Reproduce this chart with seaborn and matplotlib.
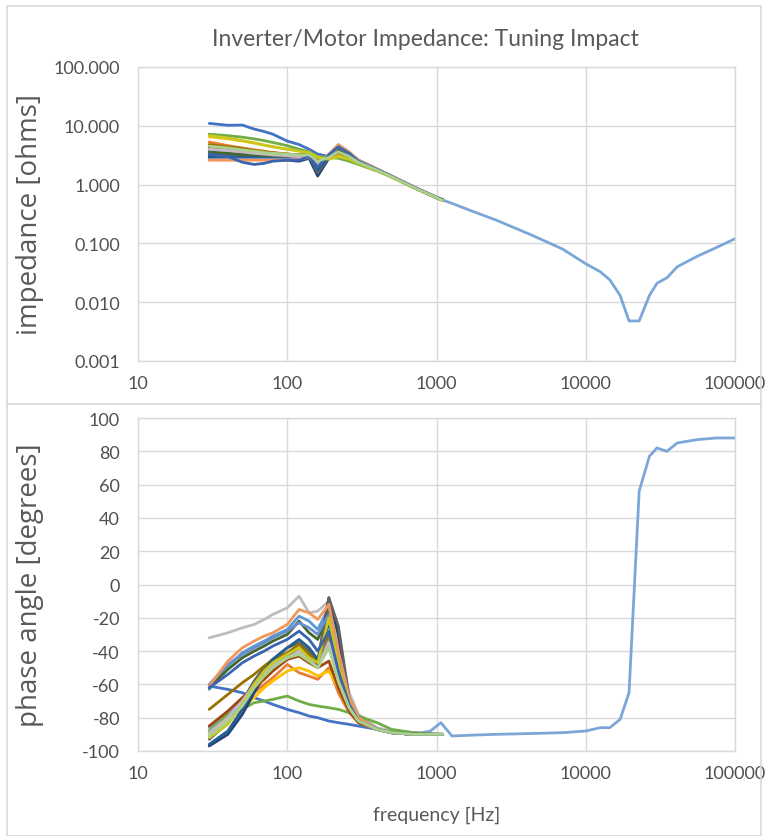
import matplotlib
matplotlib.use("Agg")
import matplotlib.pyplot as plt
import numpy as np
import pandas as pd
import seaborn as sns
from matplotlib.patches import Rectangle
from matplotlib.lines import Line2D
from matplotlib.ticker import FixedLocator, FuncFormatter, NullLocator

# frequency points [Hz] shared by the tuning runs
freq_runs = [30, 40, 50, 60, 70, 80, 100, 120, 140, 160, 190, 220, 260, 300, 400, 500, 700, 1000, 1100]

# full sweep of the final tuning (goes out to 100 kHz)
freq_sweep = [30, 40, 50, 60, 70, 80, 100, 120, 140, 160, 190, 220, 260, 300, 400, 500, 700,
              910, 1070, 1270, 1700, 2500, 4300, 7000, 10000, 12500, 14500, 17000, 19500,
              22800, 26700, 30000, 35000, 41000, 55600, 75000, 100000]
z_sweep = [3.8, 3.6, 3.5, 3.4, 3.3, 3.2, 3.1, 3.0, 3.0, 2.4, 2.9, 3.9, 3.1, 2.5, 1.8, 1.4, 0.92,
           0.66, 0.56, 0.48, 0.36, 0.25, 0.14, 0.08, 0.045, 0.033, 0.024, 0.013, 0.0048,
           0.0048, 0.013, 0.021, 0.026, 0.040, 0.060, 0.085, 0.12]
ph_sweep = [-86, -78, -70, -63, -56, -50, -44, -40, -42, -46, -32, -55, -75, -82, -87, -89, -90,
            -88, -83, -91, -90.5, -90, -89.5, -89, -88, -86, -86, -81, -65,
            56, 77, 82, 80, 85, 87, 88, 88]

# impedance magnitude [ohms] of each tuning run
z_gray = [3.0, 2.9, 2.8, 2.8, 2.7, 2.7, 2.7, 2.8, 3.0, 2.5, 2.9, 3.8, 3.0, 2.4, 1.75, 1.35, 0.90, 0.60, 0.55]
z_salmon = [2.6, 2.6, 2.6, 2.6, 2.6, 2.6, 2.6, 2.7, 2.9, 2.2, 3.3, 4.8, 3.6, 2.6, 1.85, 1.40, 0.92, 0.61, 0.55]
z_ltblue = [3.2, 3.1, 3.0, 3.0, 3.0, 3.0, 3.0, 3.0, 3.1, 2.4, 3.0, 4.2, 3.3, 2.5, 1.80, 1.38, 0.91, 0.60, 0.55]
z_dkgreen = [3.6, 3.4, 3.3, 3.2, 3.1, 3.1, 3.0, 3.0, 3.1, 2.3, 3.0, 4.0, 3.2, 2.5, 1.78, 1.37, 0.90, 0.60, 0.54]
z_blue = [3.3, 3.0, 2.4, 2.2, 2.3, 2.5, 2.6, 2.6, 3.0, 2.0, 3.2, 4.4, 3.4, 2.5, 1.80, 1.38, 0.91, 0.60, 0.55]
z_navy = [11.0, 10.2, 10.3, 8.8, 8.0, 7.2, 5.5, 4.8, 4.0, 3.3, 3.0, 3.2, 2.9, 2.4, 1.78, 1.38, 0.90, 0.61, 0.56]
z_green = [7.2, 6.8, 6.4, 6.0, 5.6, 5.2, 4.6, 4.0, 3.6, 3.0, 2.9, 2.8, 2.5, 2.2, 1.70, 1.35, 0.90, 0.60, 0.54]
z_olive = [4.8, 4.4, 4.1, 3.8, 3.6, 3.5, 3.3, 3.2, 3.3, 2.3, 3.1, 4.3, 3.3, 2.5, 1.80, 1.38, 0.91, 0.60, 0.55]
z_rust = [4.2, 3.9, 3.7, 3.6, 3.5, 3.4, 3.3, 3.2, 3.3, 2.6, 2.9, 3.5, 3.0, 2.4, 1.76, 1.36, 0.90, 0.60, 0.55]
z_orange = [5.3, 4.6, 4.2, 3.9, 3.7, 3.5, 3.3, 3.2, 3.3, 2.7, 2.8, 3.4, 2.9, 2.4, 1.75, 1.36, 0.90, 0.60, 0.55]
z_gold = [6.5, 6.0, 5.5, 5.1, 4.7, 4.4, 4.0, 3.8, 3.6, 2.9, 2.8, 3.2, 2.8, 2.3, 1.72, 1.35, 0.90, 0.60, 0.54]
z_dkblue = [2.9, 2.8, 2.7, 2.7, 2.7, 2.7, 2.6, 2.5, 2.8, 1.4, 2.8, 4.0, 3.3, 2.5, 1.80, 1.38, 0.91, 0.61, 0.55]
z_steel = [3.1, 3.0, 2.9, 2.9, 2.9, 2.9, 2.8, 2.8, 3.0, 1.8, 3.0, 4.5, 3.4, 2.5, 1.82, 1.39, 0.91, 0.60, 0.55]
z_lime = [6.8, 6.2, 5.6, 5.1, 4.7, 4.4, 4.0, 3.7, 3.5, 2.9, 2.7, 3.0, 2.7, 2.3, 1.72, 1.34, 0.89, 0.59, 0.54]
z_silver = [4.0, 3.8, 3.6, 3.4, 3.3, 3.2, 3.1, 3.0, 3.1, 2.2, 3.0, 4.4, 3.4, 2.5, 1.81, 1.38, 0.91, 0.60, 0.55]
z_charcoal = [3.5, 3.3, 3.2, 3.1, 3.0, 3.0, 2.9, 2.9, 3.0, 1.6, 2.9, 4.6, 3.5, 2.6, 1.83, 1.39, 0.92, 0.61, 0.55]
z_periwinkle = [2.7, 2.7, 2.7, 2.7, 2.7, 2.7, 2.7, 2.8, 3.0, 2.3, 3.1, 4.7, 3.5, 2.6, 1.84, 1.40, 0.92, 0.61, 0.55]
z_ltgreen = [4.5, 4.2, 3.9, 3.7, 3.5, 3.4, 3.3, 3.2, 3.2, 2.5, 2.9, 3.6, 3.0, 2.4, 1.76, 1.36, 0.90, 0.60, 0.54]

# phase angle [degrees] of each tuning run
ph_gray = [-32, -29, -26, -24, -21, -18, -14, -7, -17, -16, -10, -35, -65, -78, -86, -88, -89, -90, -90]
ph_salmon = [-61, -46, -38, -34, -31, -29, -24, -15, -17, -21, -12, -40, -68, -80, -87, -89, -90, -90, -90]
ph_ltblue = [-63, -49, -41, -37, -34, -31, -27, -19, -22, -27, -14, -45, -70, -81, -87, -89, -90, -90, -90]
ph_dkgreen = [-62, -51, -44, -40, -37, -34, -30, -22, -29, -33, -17, -48, -71, -81, -87, -89, -90, -90, -90]
ph_blue = [-62, -54, -47, -43, -40, -37, -33, -28, -33, -40, -28, -52, -72, -82, -87, -89, -90, -90, -90]
ph_navy = [-61, -63, -65, -68, -70, -72, -75, -77, -79, -80, -82, -83, -84, -85, -87, -88, -89, -90, -90]
ph_green = [-88, -78, -75, -71, -70, -69, -67, -70, -72, -73, -74, -75, -77, -79, -83, -87, -89, -90, -90]
ph_olive = [-75, -66, -59, -54, -49, -45, -41, -36, -42, -45, -30, -55, -73, -82, -87, -89, -90, -90, -90]
ph_rust = [-85, -76, -68, -62, -57, -52, -45, -43, -47, -50, -46, -62, -76, -83, -87, -89, -90, -90, -90]
ph_orange = [-88, -80, -71, -65, -60, -56, -48, -53, -55, -57, -50, -65, -77, -83, -87, -89, -90, -90, -90]
ph_gold = [-90, -82, -74, -68, -62, -58, -52, -50, -52, -55, -52, -62, -76, -83, -87, -89, -90, -90, -90]
ph_dkblue = [-97, -90, -78, -65, -55, -48, -42, -40, -44, -48, -8, -30, -70, -81, -87, -89, -90, -90, -90]
ph_steel = [-96, -88, -75, -62, -52, -45, -38, -33, -38, -45, -23, -45, -71, -81, -87, -89, -90, -90, -90]
ph_lime = [-92, -84, -72, -60, -52, -47, -42, -38, -44, -47, -20, -48, -72, -82, -87, -89, -90, -90, -90]
ph_silver = [-89, -80, -70, -60, -53, -48, -44, -40, -45, -50, -35, -58, -74, -82, -87, -89, -90, -90, -90]
ph_charcoal = [-93, -83, -70, -58, -50, -45, -38, -35, -40, -46, -8, -25, -68, -80, -87, -89, -90, -90, -90]
ph_periwinkle = [-60, -48, -42, -38, -35, -32, -28, -23, -26, -30, -18, -44, -70, -81, -87, -89, -90, -90, -90]
ph_ltgreen = [-91, -82, -73, -62, -55, -50, -44, -42, -46, -50, -38, -58, -74, -82, -87, -89, -90, -90, -90]

runs = [
    ("sweep", freq_sweep, z_sweep, ph_sweep, "#7BA7D8"),
    ("run 1", freq_runs, z_navy, ph_navy, "#4472C4"),
    ("run 2", freq_runs, z_orange, ph_orange, "#ED7D31"),
    ("run 3", freq_runs, z_gray, ph_gray, "#BDBDBD"),
    ("run 4", freq_runs, z_gold, ph_gold, "#FFC000"),
    ("run 5", freq_runs, z_ltblue, ph_ltblue, "#5B9BD5"),
    ("run 6", freq_runs, z_green, ph_green, "#70AD47"),
    ("run 7", freq_runs, z_dkblue, ph_dkblue, "#264478"),
    ("run 8", freq_runs, z_rust, ph_rust, "#9E480E"),
    ("run 9", freq_runs, z_charcoal, ph_charcoal, "#636363"),
    ("run 10", freq_runs, z_olive, ph_olive, "#997300"),
    ("run 11", freq_runs, z_steel, ph_steel, "#255E91"),
    ("run 12", freq_runs, z_dkgreen, ph_dkgreen, "#43682B"),
    ("run 13", freq_runs, z_periwinkle, ph_periwinkle, "#698ED0"),
    ("run 14", freq_runs, z_salmon, ph_salmon, "#F1975A"),
    ("run 15", freq_runs, z_silver, ph_silver, "#C9B8C9"),
    ("run 16", freq_runs, z_lime, ph_lime, "#C8C81E"),
    ("run 17", freq_runs, z_blue, ph_blue, "#3A64B0"),
    ("run 18", freq_runs, z_ltgreen, ph_ltgreen, "#A9D18E"),
]

frames = []
for name, f, z, ph, _ in runs:
    frames.append(pd.DataFrame({"run": name, "freq": f, "z": z, "phase": ph}))
df = pd.concat(frames, ignore_index=True)
palette = {name: c for name, _, _, _, c in runs}
order = [r[0] for r in runs]

sns.set_theme(style="whitegrid")
plt.rcParams["font.family"] = ["Lato", "DejaVu Sans"]

txt = "#595959"
grid = "#D9D9D9"

fig = plt.figure(figsize=(7.68, 8.37), dpi=100)
W, H = 768.0, 837.0


def box(x0, y0, x1, y1):
    return [x0 / W, 1 - y1 / H, (x1 - x0) / W, (y1 - y0) / H]


ax1 = fig.add_axes(box(138, 68, 735, 362))
ax2 = fig.add_axes(box(138, 419, 735, 752))

for ax, col in [(ax1, "z"), (ax2, "phase")]:
    sns.lineplot(data=df, x="freq", y=col, hue="run", hue_order=order, palette=palette,
                 estimator=None, sort=False, linewidth=2.0, legend=False, ax=ax)
    ax.set_xscale("log")
    ax.set_xlim(10, 100000)
    ax.xaxis.set_major_locator(FixedLocator([10, 100, 1000, 10000, 100000]))
    ax.xaxis.set_minor_locator(NullLocator())
    ax.xaxis.set_major_formatter(FuncFormatter(lambda v, p: "%d" % round(v)))
    ax.grid(True, color=grid, linewidth=1.0)
    for s in ax.spines.values():
        s.set_visible(True)
        s.set_color(grid)
        s.set_linewidth(1.0)
    ax.tick_params(length=0, colors="#505050", labelsize=13, pad=10)
    ax.set_xlabel("")

ax1.set_yscale("log")
ax1.set_ylim(0.001, 100)
ax1.yaxis.set_major_locator(FixedLocator([0.001, 0.01, 0.1, 1, 10, 100]))
ax1.yaxis.set_minor_locator(NullLocator())
ax1.yaxis.set_major_formatter(FuncFormatter(lambda v, p: "%.3f" % v))
ax1.tick_params(axis="y", pad=13)
ax1.set_ylabel("impedance [ohms]", fontsize=20, color=txt, family="Open Sans")
ax1.yaxis.set_label_coords(-0.157, 0.5)

ax2.set_ylim(-100, 100)
ax2.yaxis.set_major_locator(FixedLocator(list(range(-100, 101, 20))))
ax2.yaxis.set_major_formatter(FuncFormatter(lambda v, p: "%d" % v))
ax2.tick_params(axis="y", pad=13)
ax2.set_ylabel("phase angle [degrees]", fontsize=20, color=txt, family="Open Sans")
ax2.yaxis.set_label_coords(-0.157, 0.5)

fig.text(425 / W, 1 - 39 / H, "Inverter/Motor Impedance: Tuning Impact", ha="center",
         va="center", fontsize=16.5, color=txt)
fig.text(437 / W, 1 - 815 / H, "frequency [Hz]", ha="center", va="center",
         fontsize=14, color=txt)

# chart area borders
fig.patches.append(Rectangle((7 / W, 0), 754 / W, 1 - 7 / H, transform=fig.transFigure,
                             fill=False, edgecolor=grid, linewidth=1.2))
fig.lines.append(Line2D([7 / W, 761 / W], [1 - 405 / H, 1 - 405 / H],
                        transform=fig.transFigure, color=grid, linewidth=1.2))

fig.savefig("out.png", dpi=100)
